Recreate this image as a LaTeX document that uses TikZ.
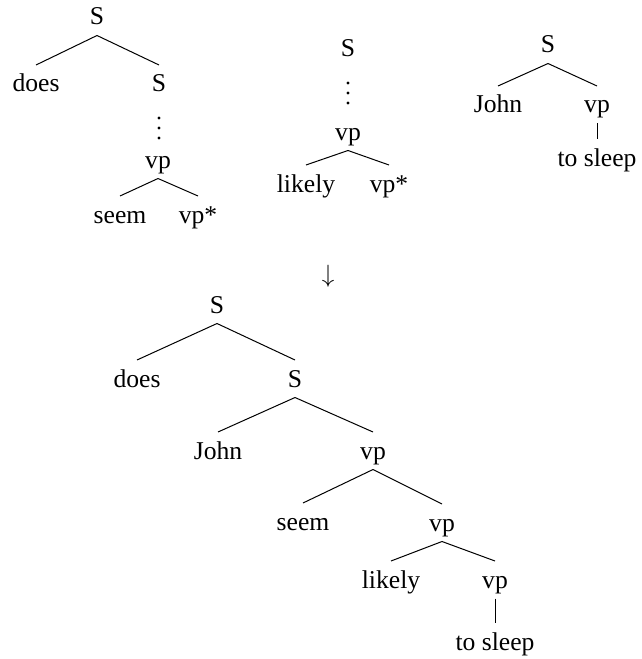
\documentclass[tikz,border=0pt]{standalone}
\usepackage{amsmath}
\usepackage{fontspec}
\setmainfont{Liberation Serif}
\usepackage{tikz}
% three stacked dots round a named coordinate
\newcommand{\stackdots}[1]{%
  \fill (#1)++(0,-10) circle (1.6);
  \fill (#1) circle (1.6);
  \fill (#1)++(0,10) circle (1.6);}

\begin{document}
\begin{tikzpicture}[x=0.4pt,y=-0.4pt,font=\fontsize{10.25}{12}\selectfont]
  \tikzstyle{cat}=[anchor=base,inner xsep=0pt,inner ysep=4pt,
    text height=0.66em,text depth=0pt]
  \useasboundingbox (0,0) rectangle (641,659);
  % elementary tree: does
  \node[cat] (t1root) at (97,25) {S};
  \node[cat] (t1does) at (36,92) {does};
  \node[cat] (t1s) at (159,92) {S};
  \coordinate (t1dots) at (159,128);
  \node[cat] (t1vp) at (158,168) {vp};
  \node[cat] (t1seem) at (120,223) {seem};
  \node[cat] (t1foot) at (198,223) {vp*};
  \draw (t1root.south)--(t1does.north);
  \draw (t1root.south)--(t1s.north);
  \stackdots{t1dots}
  \draw (t1vp.south)--(t1seem.north);
  \draw (t1vp.south)--(t1foot.north);
  % elementary tree: likely
  \node[cat] (t2root) at (348,57) {S};
  \coordinate (t2dots) at (348,93);
  \node[cat] (t2vp) at (348,140) {vp};
  \node[cat] (t2likely) at (306,192) {likely};
  \node[cat] (t2foot) at (389,192) {vp*};
  \stackdots{t2dots}
  \draw (t2vp.south)--(t2likely.north);
  \draw (t2vp.south)--(t2foot.north);
  % elementary tree: John
  \node[cat] (t3root) at (548,53) {S};
  \node[cat] (t3john) at (498,113) {John};
  \node[cat] (t3vp) at (597,113) {vp};
  \node[cat] (t3sleep) at (597,166) {to sleep};
  \draw (t3root.south)--(t3john.north);
  \draw (t3root.south)--(t3vp.north);
  \draw (t3vp.south)--(t3sleep.north);
  % derived tree
  \node (arrow) at (328,276) {$\downarrow$};
  \node[cat] (bs1) at (217,313) {S};
  \node[cat] (bdoes) at (137,387) {does};
  \node[cat] (bs2) at (295,387) {S};
  \node[cat] (bjohn) at (218,459) {John};
  \node[cat] (bvp1) at (373,459) {vp};
  \node[cat] (bseem) at (303,530) {seem};
  \node[cat] (bvp2) at (442,531) {vp};
  \node[cat] (blikely) at (391,588) {likely};
  \node[cat] (bvp3) at (495,588) {vp};
  \node[cat] (bsleep) at (495,650) {to sleep};
  \draw (bs1.south)--(bdoes.north);
  \draw (bs1.south)--(bs2.north);
  \draw (bs2.south)--(bjohn.north);
  \draw (bs2.south)--(bvp1.north);
  \draw (bvp1.south)--(bseem.north);
  \draw (bvp1.south)--(bvp2.north);
  \draw (bvp2.south)--(blikely.north);
  \draw (bvp2.south)--(bvp3.north);
  \draw (bvp3.south)--(bsleep.north);
\end{tikzpicture}
\end{document}
